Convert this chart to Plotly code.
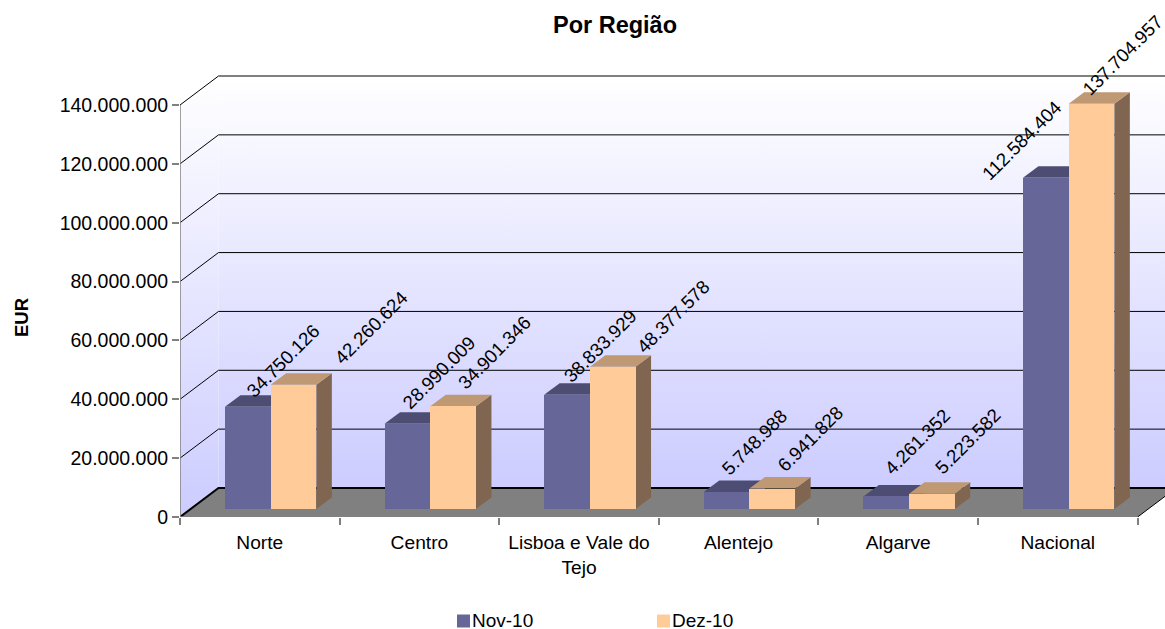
import plotly.graph_objects as go

categories = ["Norte", "Centro", "Lisboa e Vale do<br>Tejo", "Alentejo", "Algarve", "Nacional"]
series_names = ["Nov-10", "Dez-10"]
nov_values = [34750126, 28990009, 38833929, 5748988, 4261352, 112584404]
dez_values = [42260624, 34901346, 48377578, 6941828, 5223582, 137704957]
y_ticks = [0, 20000000, 40000000, 60000000, 80000000, 100000000, 120000000, 140000000]

# Label nudges in pixels from each bar's top-front centre (as placed in the source chart)
nov_label_shift = [(-8, 3), (-12, 8), (-10, 6), (-12, 10), (-8, 15), (-71, -9)]
dez_label_shift = [(34, 14), (-2, 10), (17, 7), (-1, 10), (-4, 13), (-16, 1)]

# Geometry (pixels on the 1165x629 page)
W, H = 1165, 629
LEFT, TOP, BOTTOM = 180, 70, 517
CAT_PX = 159.6
VAL_PX = 412 / 140000000
def px_x(p): return p / CAT_PX
def px_y(p): return p / VAL_PX
def paper_x(p): return (p - LEFT) / (W - LEFT)
def paper_y(p): return (BOTTOM - p) / (BOTTOM - TOP)

WALL_DX, WALL_DY = px_x(38.5), px_y(29)
BAR_DX, BAR_DY = px_x(15.5), px_y(11.5)
BAR_W = px_x(45.7)
BAR_LIFT = px_y(8)
NOV_C, DEZ_C = px_x(67.8), px_x(113.5)
X_MAX = (W - LEFT) / CAT_PX
Y_MAX = (BOTTOM - TOP) / (412 / 140000000)
N = len(categories)

FONT = "Liberation Sans, Arial, sans-serif"
NOV, NOV_TOP, NOV_SIDE = "#666699", "#4D4D73", "#4D4D73"
DEZ, DEZ_TOP, DEZ_SIDE = "#FFCC99", "#BF9973", "#806650"

fig = go.Figure()

def poly(xs, ys, color=None, grad=None):
    kw = dict(fillgradient=grad) if grad else dict(fillcolor=color)
    fig.add_trace(go.Scatter(x=xs, y=ys, mode="lines", fill="toself", line=dict(width=0),
                             hoverinfo="skip", showlegend=False, **kw))

grad = dict(type="vertical", colorscale=[[0, "#CCCCFF"], [1, "#FFFFFF"]])
top_val = y_ticks[-1]
# back wall and side wall
poly([WALL_DX, X_MAX, X_MAX, WALL_DX, WALL_DX],
     [WALL_DY, WALL_DY, top_val + WALL_DY, top_val + WALL_DY, WALL_DY], grad=grad)
poly([0, WALL_DX, WALL_DX, 0, 0], [0, WALL_DY, top_val + WALL_DY, top_val, 0], grad=grad)
# floor
poly([0, WALL_DX, X_MAX, X_MAX, N, 0],
     [0, WALL_DY, WALL_DY, (X_MAX - N) / WALL_DX * WALL_DY, 0, 0], color="#808080")

# grid lines along side wall and back wall
gx, gy = [], []
for v in y_ticks[1:]:
    gx += [0, WALL_DX, X_MAX, None]
    gy += [v, v + WALL_DY, v + WALL_DY, None]
fig.add_trace(go.Scatter(x=gx, y=gy, mode="lines", line=dict(color="#000000", width=1),
                         hoverinfo="skip", showlegend=False))
# heavier floor edge
fig.add_trace(go.Scatter(x=[0, WALL_DX, X_MAX], y=[0, WALL_DY, WALL_DY], mode="lines",
                         line=dict(color="#000000", width=2), hoverinfo="skip", showlegend=False))
# right-hand floor edge
fig.add_trace(go.Scatter(x=[N, X_MAX], y=[0, (X_MAX - N) / WALL_DX * WALL_DY], mode="lines",
                         line=dict(color="#000000", width=1), hoverinfo="skip", showlegend=False))

# tops and sides of the bars
for vals, c, top_col, side_col in [(nov_values, NOV_C, NOV_TOP, NOV_SIDE), (dez_values, DEZ_C, DEZ_TOP, DEZ_SIDE)]:
    for i, v in enumerate(vals):
        l, r = i + c - BAR_W / 2, i + c + BAR_W / 2
        y0, y1 = BAR_LIFT, BAR_LIFT + v
        poly([r, r + BAR_DX, r + BAR_DX, r, r], [y0, y0 + BAR_DY, y1 + BAR_DY, y1, y0], color=side_col)
        poly([l, r, r + BAR_DX, l + BAR_DX, l], [y1, y1, y1 + BAR_DY, y1 + BAR_DY, y1], color=top_col)

# axis lines stop at the front plane
fig.add_trace(go.Scatter(x=[0, N], y=[0, 0], mode="lines", line=dict(color="#808080", width=1.5),
                         cliponaxis=False, hoverinfo="skip", showlegend=False))
fig.add_trace(go.Scatter(x=[0, 0], y=[0, top_val], mode="lines", line=dict(color="#808080", width=1.5),
                         cliponaxis=False, hoverinfo="skip", showlegend=False))

# front faces on an overlay so they sit above the side and top faces
fig.add_trace(go.Bar(name=series_names[0], x=[i + NOV_C for i in range(N)], y=nov_values, base=BAR_LIFT,
                     width=BAR_W, marker=dict(color=NOV, line=dict(width=0)),
                     xaxis="x2", yaxis="y2", showlegend=False))
fig.add_trace(go.Bar(name=series_names[1], x=[i + DEZ_C for i in range(N)], y=dez_values, base=BAR_LIFT,
                     width=BAR_W, marker=dict(color=DEZ, line=dict(width=0)),
                     xaxis="x2", yaxis="y2", showlegend=False))

def thousands(v):
    return f"{v:,}".replace(",", ".")

annotations = []
for vals, c, shifts in [(nov_values, NOV_C, nov_label_shift), (dez_values, DEZ_C, dez_label_shift)]:
    for i, v in enumerate(vals):
        dx, dy = shifts[i]
        annotations.append(dict(x=i + c, y=BAR_LIFT + v, xref="x", yref="y", text=thousands(v), showarrow=False,
                                textangle=-45, xanchor="left", yanchor="bottom", xshift=dx, yshift=dy,
                                font=dict(family=FONT, size=18.7, color="#000000")))
annotations.append(dict(x=paper_x(21), y=paper_y(318), xref="paper", yref="paper", yanchor="middle", xanchor="center",
                        text="<b>EUR</b>", textangle=-90, showarrow=False,
                        font=dict(family=FONT, size=18.5, color="#000000")))

# legend placed to the source's spacing
shapes = []
for name, col, sx in zip(series_names, [NOV, DEZ], [457, 657]):
    shapes.append(dict(type="rect", xref="paper", yref="paper", x0=paper_x(sx), x1=paper_x(sx + 13),
                       y0=paper_y(627.5), y1=paper_y(614.5), fillcolor=col, line=dict(width=0)))
    annotations.append(dict(x=paper_x(sx + 14), y=paper_y(620), xref="paper", yref="paper", text=name, showarrow=False,
                            xanchor="left", yanchor="middle", borderpad=0, font=dict(family=FONT, size=19, color="#000000")))

fig.update_layout(
    width=W, height=H, autosize=False,
    margin=dict(l=LEFT, r=0, t=TOP, b=H - BOTTOM),
    paper_bgcolor="#FFFFFF", plot_bgcolor="#FFFFFF",
    separators=",.",
    bargap=0, barmode="overlay",
    showlegend=False,
    title=dict(text="<b>Por Região</b>", x=615 / W, xanchor="center", y=1 - 25 / H, yanchor="middle",
               font=dict(family=FONT, size=23.5, color="#000000")),
    font=dict(family=FONT, size=19, color="#000000"),
    xaxis=dict(range=[0, X_MAX], showgrid=False, zeroline=False, showline=False,
               tickmode="array", tickvals=[i + 0.5 for i in range(N)], ticktext=categories,
               ticks="", ticklen=0, tickangle=0, ticklabelstandoff=12, tickfont=dict(family=FONT, size=19.2),
               minor=dict(tickmode="array", tickvals=list(range(N + 1)), ticks="outside", ticklen=7,
                          tickcolor="#808080", tickwidth=1.5, showgrid=False)),
    yaxis=dict(range=[0, Y_MAX], showgrid=False, zeroline=False, showline=False,
               tickmode="array", tickvals=y_ticks, tickformat=",d", ticks="outside", ticklen=7,
               tickcolor="#808080", tickwidth=1.5, tickfont=dict(family=FONT, size=19.5)),
    xaxis2=dict(range=[0, X_MAX], overlaying="x", visible=False),
    yaxis2=dict(range=[0, Y_MAX], overlaying="y", visible=False),
    annotations=annotations, shapes=shapes,
)
fig.write_html("out.html", config={"displayModeBar": False}, post_script="document.body.style.margin='0';")
